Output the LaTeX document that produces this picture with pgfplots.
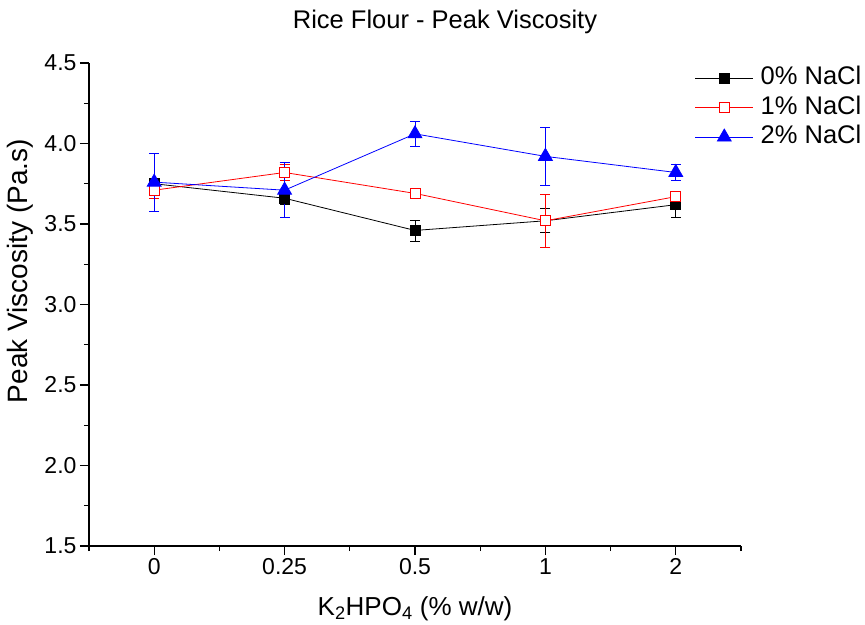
\documentclass[border=0pt]{standalone}
\usepackage{pgfplots}
\pgfplotsset{compat=1.18}
\usepackage{fontspec}
\setmainfont{Liberation Sans}

\begin{document}
\begin{tikzpicture}
\begin{axis}[
    scale only axis,
    width=652pt, height=483pt,
    xmin=-0.5, xmax=4.5,
    ymin=1.5, ymax=4.5,
    axis x line*=bottom, axis y line*=left,
    axis line style={line width=1.4pt},
    xtick={0,1,2,3,4},
    xticklabels={0,0.25,0.5,1,2},
    minor xtick={-0.5,0.5,1.5,2.5,3.5,4.5},
    ytick={1.5,2,...,4.5},
    minor ytick={1.75,2.25,...,4.25},
    tick align=outside,
    major tick length=9pt, minor tick length=5pt,
    tick style={line width=1.3pt, black},
    ticklabel style={font=\fontsize{23}{27}\selectfont},
    /pgf/number format/assume math mode=true,
    yticklabel style={/pgf/number format/.cd, fixed, fixed zerofill, precision=1},
    title={Rice Flour - Peak Viscosity},
    title style={at={(axis description cs:0.546,1.060)}, anchor=base,
        font=\fontsize{25.5}{30}\selectfont},
    xlabel={K\textsubscript{2}HPO\textsubscript{4} (\% w/w)},
    xlabel style={at={(axis description cs:0.5,-0.143)}, anchor=base,
        font=\fontsize{26}{30}\selectfont},
    ylabel={Peak Viscosity (Pa.s)},
    ylabel style={at={(axis description cs:-0.094,0.569)}, anchor=base, rotate=0,
        font=\fontsize{28}{32}\selectfont},
    legend style={at={(axis description cs:0.929,0.993)}, anchor=north west,
        draw=none, fill=none, inner sep=0pt,
        nodes={inner sep=0pt, text height=18pt, text depth=5pt},
        font=\fontsize{25.5}{30}\selectfont, row sep=6.5pt,
        /tikz/every odd column/.append style={column sep=7pt}},
    legend cell align=left,
    legend image code/.code={
        \draw[mark repeat=2,mark phase=2]
        plot coordinates {(0pt,0pt) (29pt,0pt) (58pt,0pt)};
    },
    clip=false,
]

% 0% NaCl
\addplot[black, line width=0.8pt, mark=square*, mark size=5pt,
    mark options={solid, fill=black},
    error bars/.cd, y dir=both, y explicit,
    error bar style={line width=0.8pt},
    error mark options={rotate=90, mark size=5pt, line width=0.8pt}]
coordinates {
    (0,3.75) +- (0,0.02)
    (1,3.66) +- (0,0.04)
    (2,3.46) +- (0,0.065)
    (3,3.52) +- (0,0.075)
    (4,3.62) +- (0,0.08)
};
\addlegendentry{0\% NaCl}

% 1% NaCl
\addplot[red, line width=0.8pt, mark=square*, mark size=5pt,
    mark options={solid, fill=white, draw=red},
    error bars/.cd, y dir=both, y explicit,
    error bar style={line width=0.8pt},
    error mark options={rotate=90, mark size=5pt, line width=0.8pt}]
coordinates {
    (0,3.71) +- (0,0.05)
    (1,3.82) +- (0,0.05)
    (2,3.69) +- (0,0.02)
    (3,3.52) +- (0,0.165)
    (4,3.67) +- (0,0.03)
};
\addlegendentry{1\% NaCl}

% 2% NaCl
\addplot[blue, line width=0.8pt, mark=triangle*, mark size=8pt,
    mark options={solid, fill=blue},
    error bars/.cd, y dir=both, y explicit,
    error bar style={line width=0.8pt},
    error mark options={rotate=90, mark size=5pt, line width=0.8pt}]
coordinates {
    (0,3.76) +- (0,0.18)
    (1,3.71) +- (0,0.17)
    (2,4.06) +- (0,0.077)
    (3,3.92) +- (0,0.18)
    (4,3.82) +- (0,0.05)
};
\addlegendentry{2\% NaCl}

\end{axis}
\pgfresetboundingbox
\path[use as bounding box] (-89pt,-78pt) rectangle (776pt,546pt);
\end{tikzpicture}
\end{document}
